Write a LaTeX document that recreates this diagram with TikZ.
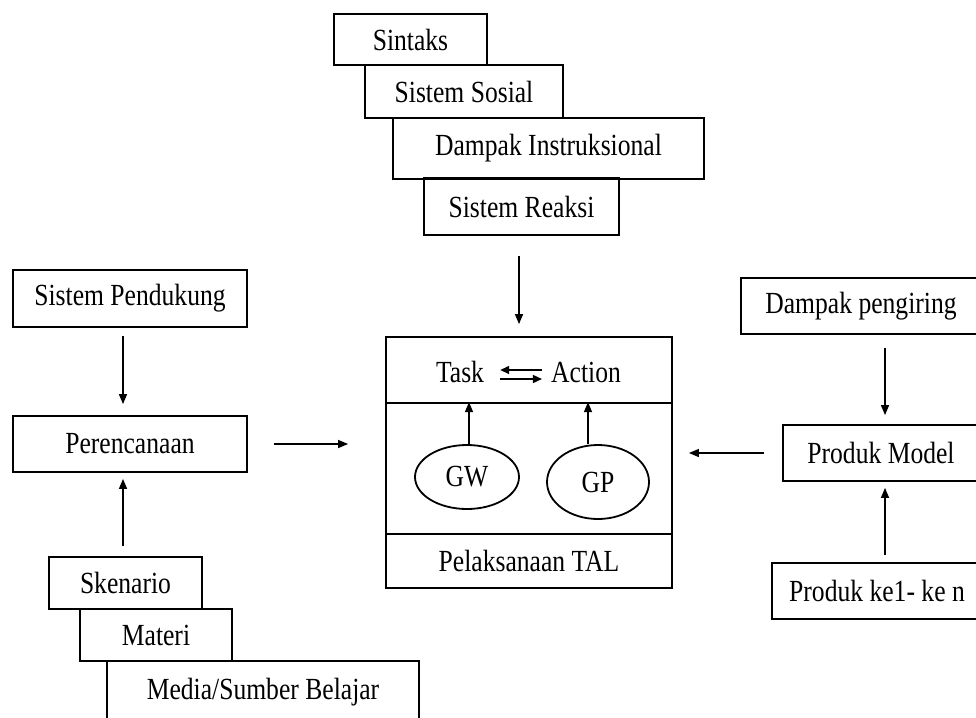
\documentclass[tikz,border=0pt]{standalone}
\usepackage{fontspec}
\setmainfont{Liberation Serif}
\usetikzlibrary{arrows.meta,shapes.geometric}
\newcommand\T[1]{\scalebox{1}[1.2]{#1}}
\begin{document}
\begin{tikzpicture}[x=1pt,y=-1pt,
  box/.style={draw,line width=1.8pt,rectangle,inner sep=0pt,font=\fontsize{25.6}{30}\selectfont},
  oval/.style={draw,line width=1.8pt,ellipse,inner sep=0pt,font=\fontsize{25.6}{30}\selectfont},
  txt/.style={inner sep=0pt,font=\fontsize{25.6}{30}\selectfont},
  arr/.style={line width=1.4pt,-{Triangle[length=10pt,width=8pt]}}]
\useasboundingbox (0,0) rectangle (976,717);
\clip (0,0) rectangle (976,717);
% top stack
\node[box,minimum width=153,minimum height=51] (sintaks) at (410.5,39.5) {\T{Sintaks}};
\node[box,minimum width=198,minimum height=53] (sosial) at (464,91.5) {\T{Sistem Sosial}};
\node[box,minimum width=311,minimum height=61] (dampak) at (548.5,148.5) {\T{Dampak Instruksional}};
\node[box,minimum width=195,minimum height=57] (reaksi) at (521.5,206.5) {\T{Sistem Reaksi}};
% central
\node[box,minimum width=286,minimum height=66] (top) at (529,370) {};
\node[box,minimum width=286,minimum height=131] (mid) at (529,468.5) {};
\node[box,minimum width=286,minimum height=54] (bot) at (529,561) {\T{Pelaksanaan TAL}};
\node[txt] (task) at (460,372) {\T{Task}};
\node[txt] (action) at (586,372) {\T{Action}};
\node[oval,minimum width=104,minimum height=64] (gw) at (467,477) {\T{GW}};
\node[oval,minimum width=102,minimum height=74] (gp) at (598,482) {\T{GP}};
% left
\node[box,minimum width=234,minimum height=57] (pendukung) at (130,298.5) {\T{Sistem Pendukung}};
\node[box,minimum width=234,minimum height=56] (perencanaan) at (130,444) {\T{Perencanaan}};
\node[box,minimum width=153,minimum height=52] (skenario) at (125.5,583) {\T{Skenario}};
\node[box,minimum width=152,minimum height=52] (materi) at (156,635) {\T{Materi}};
\node[box,minimum width=312,minimum height=62] (media) at (263,692) {\T{Media/Sumber Belajar}};
% right
\node[box,minimum width=240,minimum height=56] (pengiring) at (861,306) {\T{Dampak pengiring}};
\node[box,minimum width=196,minimum height=56] (model) at (881,453) {\T{Produk Model}};
\node[box,minimum width=210,minimum height=56] (produk) at (877,591) {\T{Produk ke1- ke n}};
% helper x positions
\coordinate (xa) at (123,0);
\coordinate (xb) at (519,0);
\coordinate (xc) at (885,0);
\coordinate (xd) at (469,0);
\coordinate (xe) at (588,0);
% connectors
\draw[arr,shorten <=20pt,shorten >=12pt] (reaksi.south -| xb) -- (top.north -| xb);
\draw[arr,shorten <=8pt,shorten >=11pt] (pendukung.south -| xa) -- (perencanaan.north -| xa);
\draw[arr,shorten <=10pt,shorten >=6pt] (skenario.north -| xa) -- (perencanaan.south -| xa);
\draw[arr,shorten <=26pt,shorten >=37pt] (perencanaan.east) -- (perencanaan.east -| mid.west);
\draw[arr,shorten <=13pt,shorten >=9pt] (pengiring.south -| xc) -- (model.north -| xc);
\draw[arr,shorten <=7pt,shorten >=6pt] (produk.north -| xc) -- (model.south -| xc);
\draw[arr,shorten <=18pt,shorten >=16pt] (model.west) -- (model.west -| mid.east);
\draw[arr] (gw.north -| xd) -- (mid.north -| xd);
\draw[arr] (gp.north -| xe) -- (mid.north -| xe);
\draw[line width=1.4pt,-{Triangle[length=9pt,width=8pt]},shorten <=16pt,shorten >=9pt] ([yshift=-7pt]task.east) -- ([yshift=-7pt]task.east -| action.west);
\draw[line width=1.4pt,-{Triangle[length=9pt,width=8pt]},shorten <=9pt,shorten >=16pt] ([yshift=2pt]action.west) -- ([yshift=2pt]action.west -| task.east);
\end{tikzpicture}
\end{document}
